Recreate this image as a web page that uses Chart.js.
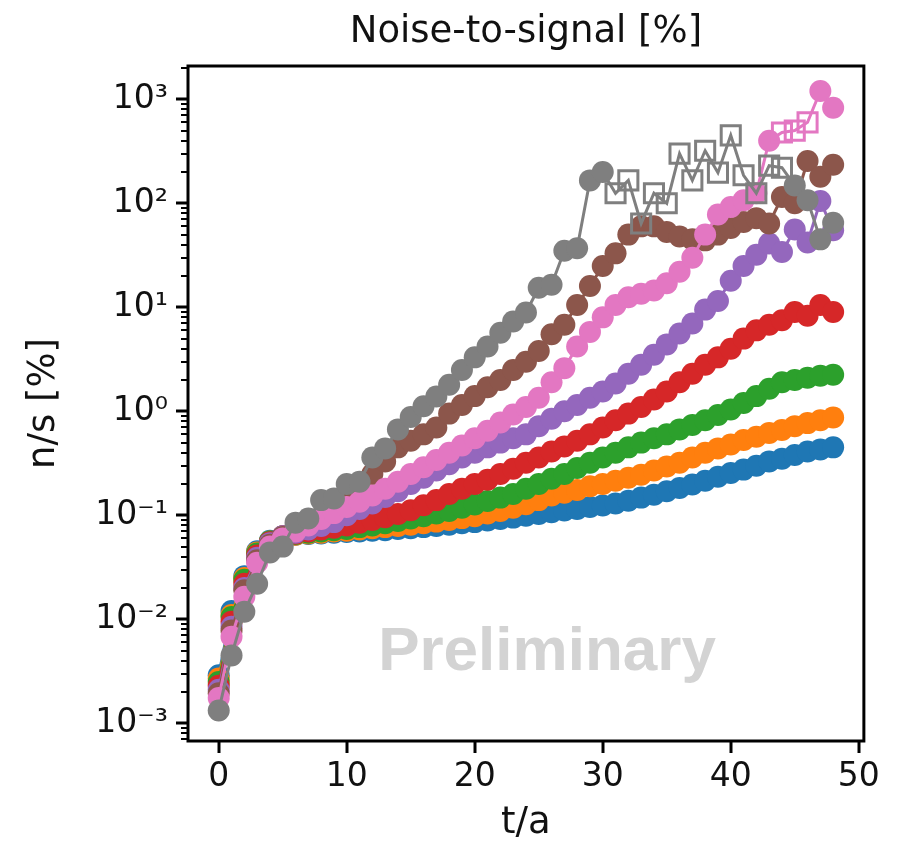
<!DOCTYPE html>
<html>
<head>
<meta charset="utf-8">
<script src="https://cdn.jsdelivr.net/npm/chart.js@4/dist/chart.umd.min.js"></script>
<style>
  html, body { margin: 0; padding: 0; background: #fff; }
</style>
</head>
<body>
<canvas id="nsChart" width="897" height="842"></canvas>
<script>
// t/a values (one point per year)
const tValues = [0, 1, 2, 3, 4, 5, 6, 7, 8, 9, 10, 11, 12, 13, 14, 15, 16, 17, 18, 19, 20,
  21, 22, 23, 24, 25, 26, 27, 28, 29, 30, 31, 32, 33, 34, 35, 36, 37, 38, 39, 40,
  41, 42, 43, 44, 45, 46, 47, 48];

// noise-to-signal in %
const nsBlue = [0.0029, 0.012, 0.026, 0.045, 0.057, 0.062, 0.065, 0.066, 0.067, 0.068, 0.069,
  0.070, 0.071, 0.072, 0.074, 0.075, 0.077, 0.079, 0.081, 0.084, 0.086,
  0.089, 0.092, 0.095, 0.099, 0.103, 0.107, 0.111, 0.115, 0.120, 0.124,
  0.130, 0.138, 0.148, 0.158, 0.170, 0.183, 0.198, 0.215, 0.235, 0.255,
  0.275, 0.300, 0.330, 0.350, 0.380, 0.410, 0.430, 0.450];
const nsOrange = [0.0027, 0.011, 0.025, 0.044, 0.056, 0.062, 0.065, 0.067, 0.068, 0.070, 0.071,
  0.073, 0.075, 0.077, 0.079, 0.081, 0.084, 0.087, 0.090, 0.094, 0.098,
  0.104, 0.110, 0.118, 0.128, 0.140, 0.155, 0.165, 0.175, 0.190, 0.200,
  0.215, 0.230, 0.245, 0.270, 0.295, 0.320, 0.360, 0.400, 0.440, 0.480,
  0.530, 0.570, 0.620, 0.660, 0.720, 0.770, 0.820, 0.870];
const nsGreen = [0.0025, 0.0105, 0.024, 0.043, 0.056, 0.063, 0.066, 0.068, 0.070, 0.072, 0.074,
  0.077, 0.080, 0.084, 0.088, 0.093, 0.098, 0.104, 0.110, 0.118, 0.127,
  0.137, 0.148, 0.160, 0.180, 0.200, 0.225, 0.250, 0.285, 0.320, 0.360,
  0.400, 0.450, 0.500, 0.550, 0.600, 0.670, 0.740, 0.820, 0.920, 1.04,
  1.20, 1.40, 1.65, 1.90, 2.00, 2.10, 2.20, 2.25];
const nsRed = [0.0023, 0.0095, 0.022, 0.041, 0.055, 0.063, 0.067, 0.070, 0.073, 0.076, 0.080,
  0.085, 0.090, 0.096, 0.103, 0.112, 0.125, 0.140, 0.160, 0.180, 0.200,
  0.220, 0.250, 0.280, 0.320, 0.360, 0.410, 0.460, 0.520, 0.600, 0.700,
  0.820, 0.950, 1.10, 1.30, 1.55, 1.90, 2.30, 2.80, 3.30, 4.00,
  5.00, 6.00, 6.80, 7.50, 9.00, 8.30, 10.5, 9.00];
const nsPurple = [0.0021, 0.0085, 0.020, 0.039, 0.054, 0.063, 0.068, 0.073, 0.079, 0.086, 0.100,
  0.115, 0.130, 0.150, 0.170, 0.200, 0.230, 0.270, 0.310, 0.360, 0.400,
  0.450, 0.500, 0.550, 0.600, 0.720, 0.850, 1.00, 1.15, 1.35, 1.55,
  1.85, 2.30, 2.80, 3.50, 4.40, 5.60, 7.00, 9.50, 11.5, 18.0,
  25.0, 32.0, 41.0, 34.0, 56.0, 42.0, 105, 55.0];
const nsBrown = [0.00195, 0.0078, 0.019, 0.037, 0.052, 0.062, 0.072, 0.083, 0.097, 0.115, 0.160,
  0.200, 0.250, 0.330, 0.450, 0.520, 0.600, 0.700, 0.950, 1.15, 1.40,
  1.70, 2.00, 2.50, 3.00, 3.80, 5.50, 6.80, 10.5, 16.0, 25.0,
  33.0, 50.0, 60.0, 60.0, 53.0, 48.0, 45.0, 44.0, 50.0, 58.0,
  66.0, 72.0, 64.0, 115, 100, 255, 180, 235];
const nsPink = [0.00175, 0.0068, 0.0165, 0.035, 0.050, 0.060, 0.070, 0.080, 0.092, 0.105, 0.120,
  0.135, 0.155, 0.180, 0.210, 0.250, 0.290, 0.340, 0.400, 0.470, 0.550,
  0.650, 0.780, 0.930, 1.10, 1.35, 1.90, 2.60, 4.20, 5.80, 8.00,
  10.5, 12.5, 13.5, 14.5, 17.0, 22.0, 30.0, 50.0, 78.0, 92.0,
  107, 125, 400, 480, 500, 600, 1200, 830];
const nsGray = [0.00133, 0.0045, 0.0118, 0.022, 0.044, 0.050, 0.085, 0.093, 0.140, 0.145, 0.200,
  0.210, 0.360, 0.440, 0.670, 0.880, 1.12, 1.39, 1.80, 2.50, 3.30,
  4.20, 5.70, 7.30, 8.90, 15.4, 16.5, 35.0, 37.0, 166, 200,
  125, 166, 64.0, 125, 100, 300, 166, 320, 197, 450,
  186, 125, 230, 220, 148, 107, 45.0, 65.0];

// t values drawn with open squares instead of filled circles
const pinkSquareT = [44, 45, 46];
const graySquareT = [31, 32, 33, 34, 35, 36, 37, 38, 39, 40, 41, 42, 43, 44];

// axis ticks
const xTickValues = [0, 10, 20, 30, 40, 50];
const yTickValues = [1e-3, 1e-2, 1e-1, 1e0, 1e1, 1e2, 1e3];
const yTickLabels = ['10\u207B\u00B3', '10\u207B\u00B2', '10\u207B\u00B9', '10\u2070', '10\u00B9', '10\u00B2', '10\u00B3'];

const seriesList = [
  { name: 'blue', values: nsBlue, color: '#1f77b4', squares: [] },
  { name: 'orange', values: nsOrange, color: '#ff7f0e', squares: [] },
  { name: 'green', values: nsGreen, color: '#2ca02c', squares: [] },
  { name: 'red', values: nsRed, color: '#d62728', squares: [] },
  { name: 'purple', values: nsPurple, color: '#9467bd', squares: [] },
  { name: 'brown', values: nsBrown, color: '#8c564b', squares: [] },
  { name: 'pink', values: nsPink, color: '#e377c2', squares: pinkSquareT },
  { name: 'gray', values: nsGray, color: '#7f7f7f', squares: graySquareT }
];

const FONT = "'DejaVu Sans', sans-serif";
const TXT = '#111';

// dataset for each series; later series are drawn on top, as in the original
const datasets = seriesList.map((s, i) => {
  const isSq = tValues.map(t => s.squares.includes(t));
  return {
    label: s.name,
    data: tValues.map((t, k) => ({ x: t, y: s.values[k] })),
    borderColor: s.color,
    borderWidth: 3,
    pointStyle: isSq.map(q => q ? 'rect' : 'circle'),
    pointRadius: isSq.map(q => q ? 13.5 : 11),
    pointBackgroundColor: isSq.map(q => q ? 'rgba(0,0,0,0)' : s.color),
    pointBorderColor: s.color,
    pointBorderWidth: isSq.map(q => q ? 3 : 0),
    tension: 0,
    order: seriesList.length - i
  };
});

// ticks, minor ticks, frame and the watermark
const axesDecor = {
  id: 'axesDecor',
  beforeDatasetsDraw(chart) {
    const { ctx } = chart;
    ctx.save();
    ctx.font = "bold 62px 'Liberation Sans', Arial, sans-serif";
    ctx.fillStyle = '#d3d3d3';
    ctx.textAlign = 'center';
    ctx.textBaseline = 'alphabetic';
    ctx.fillText('Preliminary', 547, 670);
    ctx.restore();
  },
  afterDraw(chart) {
    const { ctx, chartArea: a, scales: { x, y } } = chart;
    ctx.save();
    ctx.strokeStyle = '#000';
    ctx.lineCap = 'butt';
    const seg = (x1, y1, x2, y2) => { ctx.beginPath(); ctx.moveTo(x1, y1); ctx.lineTo(x2, y2); ctx.stroke(); };

    ctx.lineWidth = 3;
    xTickValues.forEach(v => {
      const px = Math.round(x.getPixelForValue(v));
      seg(px, a.bottom, px, a.bottom + 12);
    });
    yTickValues.forEach(v => {
      const py = Math.round(y.getPixelForValue(v));
      seg(a.left - 12, py, a.left, py);
    });
    ctx.lineWidth = 2;
    for (let k = -4; k <= 3; k++) {
      for (let m = 2; m <= 9; m++) {
        const v = m * Math.pow(10, k);
        if (v < y.min || v > y.max) continue;
        const py = Math.round(y.getPixelForValue(v));
        seg(a.left - 7, py, a.left, py);
      }
    }
    ctx.lineWidth = 3;
    ctx.strokeRect(a.left, a.top, a.right - a.left, a.bottom - a.top);
    ctx.restore();
  }
};

const ctx = document.getElementById('nsChart').getContext('2d');
const chart = new Chart(ctx, {
  type: 'line',
  data: { datasets: datasets },
  options: {
    responsive: false,
    animation: false,
    devicePixelRatio: 1,
    layout: { padding: { left: 0, right: 28, top: 0, bottom: 0 } },
    plugins: {
      legend: { display: false },
      tooltip: { enabled: false },
      title: {
        display: true,
        fullSize: false,
        text: 'Noise-to-signal [%]',
        color: TXT,
        font: { family: FONT, size: 37, weight: 'normal', lineHeight: 1.2 },
        padding: { top: 10, bottom: 11.6 }
      }
    },
    scales: {
      x: {
        type: 'linear',
        min: -2.4,
        max: 50.4,
        afterBuildTicks: s => { s.ticks = xTickValues.map(v => ({ value: v })); },
        afterFit: s => { s.height = 101; },
        grid: { display: false, drawTicks: false },
        border: { display: false },
        ticks: {
          color: TXT,
          padding: 17,
          maxRotation: 0,
          font: { family: FONT, size: 33 },
          callback: v => String(v)
        },
        title: {
          display: true,
          text: 't/a',
          color: TXT,
          font: { family: FONT, size: 37, lineHeight: 1 },
          padding: { top: 0, bottom: 0 }
        }
      },
      y: {
        type: 'logarithmic',
        min: Math.pow(10, -3.17),
        max: Math.pow(10, 3.32),
        afterBuildTicks: s => { s.ticks = yTickValues.map(v => ({ value: v })); },
        afterFit: s => { s.width = 188; },
        grid: { display: false, drawTicks: false },
        border: { display: false },
        ticks: {
          color: TXT,
          padding: 20,
          font: { family: FONT, size: 33 },
          callback: v => yTickLabels[yTickValues.indexOf(v)]
        },
        title: {
          display: true,
          text: 'n/s [%]',
          color: TXT,
          font: { family: FONT, size: 37, lineHeight: 1 },
          padding: { top: 26, bottom: 0 }
        }
      }
    }
  },
  plugins: [axesDecor]
});
</script>
</body>
</html>
